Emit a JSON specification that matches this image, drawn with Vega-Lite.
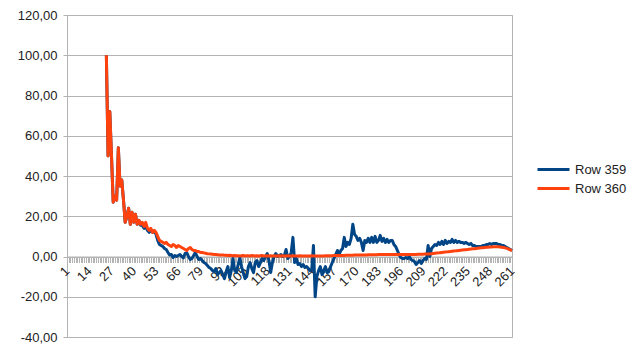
{
  "$schema": "https://vega.github.io/schema/vega-lite/v6.json",
  "width": 445,
  "height": 322,
  "autosize": {"type": "none"},
  "padding": {"left": 67, "top": 15, "right": 128, "bottom": 21},
  "background": "white",
  "config": {
    "view": {"stroke": "#b3b3b3", "strokeWidth": 1},
    "font": "Liberation Sans"
  },
  "data": {
    "values": [
      {"x":24,"Row 359":100,"Row 360":100},{"x":25,"Row 359":50,"Row 360":50},{"x":26,"Row 359":72,"Row 360":72},{"x":27,"Row 359":50,"Row 360":50},{"x":28,"Row 359":27,"Row 360":27},{"x":29,"Row 359":30,"Row 360":30},{"x":30,"Row 359":28,"Row 360":28},{"x":31,"Row 359":54,"Row 360":54},{"x":32,"Row 359":35,"Row 360":35},{"x":33,"Row 359":38,"Row 360":38},
      {"x":34,"Row 359":28,"Row 360":28},{"x":35,"Row 359":17,"Row 360":17},{"x":36,"Row 359":20,"Row 360":20},{"x":37,"Row 359":24,"Row 360":24},{"x":38,"Row 359":16,"Row 360":16},{"x":39,"Row 359":22,"Row 360":22},{"x":40,"Row 359":17,"Row 360":17},{"x":41,"Row 359":21,"Row 360":21},{"x":42,"Row 359":16,"Row 360":16},{"x":43,"Row 359":18,"Row 360":18},
      {"x":44,"Row 359":15.5,"Row 360":16},{"x":45,"Row 359":15.5,"Row 360":17},{"x":46,"Row 359":14,"Row 360":15},{"x":47,"Row 359":15,"Row 360":17},{"x":48,"Row 359":13,"Row 360":14},{"x":49,"Row 359":12,"Row 360":13},{"x":50,"Row 359":13,"Row 360":14},{"x":51,"Row 359":12,"Row 360":12},{"x":52,"Row 359":12.5,"Row 360":13},{"x":53,"Row 359":11,"Row 360":12},
      {"x":54,"Row 359":8,"Row 360":10},{"x":55,"Row 359":6,"Row 360":8},{"x":56,"Row 359":5.5,"Row 360":7.5},{"x":57,"Row 359":5,"Row 360":7},{"x":58,"Row 359":4,"Row 360":6.5},{"x":59,"Row 359":3.5,"Row 360":7},{"x":60,"Row 359":2,"Row 360":6},{"x":61,"Row 359":0.7,"Row 360":5.5},{"x":62,"Row 359":1,"Row 360":5},{"x":63,"Row 359":-0.5,"Row 360":6},
      {"x":64,"Row 359":0.5,"Row 360":5.5},{"x":65,"Row 359":0,"Row 360":4.5},{"x":66,"Row 359":0.5,"Row 360":5.5},{"x":67,"Row 359":1,"Row 360":5},{"x":68,"Row 359":0,"Row 360":4.5},{"x":69,"Row 359":-0.7,"Row 360":4},{"x":70,"Row 359":1.5,"Row 360":3.5},{"x":71,"Row 359":1.8,"Row 360":3},{"x":72,"Row 359":0,"Row 360":4},{"x":73,"Row 359":-1.5,"Row 360":4.5},
      {"x":74,"Row 359":-1,"Row 360":3.5},{"x":75,"Row 359":0.5,"Row 360":3},{"x":76,"Row 359":2,"Row 360":3},{"x":77,"Row 359":0,"Row 360":2.5},{"x":78,"Row 359":-1.5,"Row 360":2.5},{"x":79,"Row 359":-1,"Row 360":2},{"x":80,"Row 359":-2,"Row 360":2},{"x":81,"Row 359":-3,"Row 360":1.8},{"x":82,"Row 359":-3.5,"Row 360":1.6},{"x":83,"Row 359":-4.5,"Row 360":1.4},
      {"x":84,"Row 359":-5.5,"Row 360":1.3},{"x":85,"Row 359":-6,"Row 360":1.2},{"x":86,"Row 359":-7,"Row 360":1.1},{"x":87,"Row 359":-7.5,"Row 360":1},{"x":88,"Row 359":-6,"Row 360":1},{"x":89,"Row 359":-9,"Row 360":0.9},{"x":90,"Row 359":-8,"Row 360":0.8},{"x":91,"Row 359":-7,"Row 360":0.7},{"x":92,"Row 359":-9,"Row 360":0.8},{"x":93,"Row 359":-11,"Row 360":0.6},
      {"x":94,"Row 359":-7.5,"Row 360":0.6},{"x":95,"Row 359":-5,"Row 360":0.5},{"x":96,"Row 359":-10.5,"Row 360":0.6},{"x":97,"Row 359":-7,"Row 360":0.5},{"x":98,"Row 359":-1,"Row 360":0.4},{"x":99,"Row 359":-7,"Row 360":0.5},{"x":100,"Row 359":-8,"Row 360":0.4},{"x":101,"Row 359":-4,"Row 360":0.4},{"x":102,"Row 359":-0.5,"Row 360":0.3},{"x":103,"Row 359":-5,"Row 360":0.4},
      {"x":104,"Row 359":-8,"Row 360":0.5},{"x":105,"Row 359":-11,"Row 360":0.3},{"x":106,"Row 359":-10,"Row 360":0.4},{"x":107,"Row 359":-5,"Row 360":0.4},{"x":108,"Row 359":-3,"Row 360":0.3},{"x":109,"Row 359":-6,"Row 360":0.5},{"x":110,"Row 359":-8,"Row 360":0.4},{"x":111,"Row 359":-3,"Row 360":0.3},{"x":112,"Row 359":-2,"Row 360":0.4},{"x":113,"Row 359":-5,"Row 360":0.3},
      {"x":114,"Row 359":-3,"Row 360":0.4},{"x":115,"Row 359":-1,"Row 360":0.5},{"x":116,"Row 359":-2,"Row 360":0.3},{"x":117,"Row 359":0,"Row 360":0.3},{"x":118,"Row 359":1.5,"Row 360":0.4},{"x":119,"Row 359":-2,"Row 360":0.3},{"x":120,"Row 359":-8,"Row 360":0.4},{"x":121,"Row 359":-3,"Row 360":0.3},{"x":122,"Row 359":0,"Row 360":0.4},{"x":123,"Row 359":1.5,"Row 360":0.3},
      {"x":124,"Row 359":0,"Row 360":0.3},{"x":125,"Row 359":0.5,"Row 360":0.4},{"x":126,"Row 359":1,"Row 360":0.3},{"x":127,"Row 359":0,"Row 360":0.4},{"x":128,"Row 359":0.5,"Row 360":0.3},{"x":129,"Row 359":3.5,"Row 360":0.3},{"x":130,"Row 359":-1,"Row 360":0.4},{"x":131,"Row 359":0,"Row 360":0.3},{"x":132,"Row 359":2,"Row 360":0.3},{"x":133,"Row 359":9.5,"Row 360":0.4},
      {"x":134,"Row 359":-3,"Row 360":0.3},{"x":135,"Row 359":-1,"Row 360":0.3},{"x":136,"Row 359":-4,"Row 360":0.3},{"x":137,"Row 359":-3.5,"Row 360":0.4},{"x":138,"Row 359":-5,"Row 360":0.3},{"x":139,"Row 359":-4,"Row 360":0.3},{"x":140,"Row 359":-5.5,"Row 360":0.3},{"x":141,"Row 359":-5,"Row 360":0.3},{"x":142,"Row 359":-6,"Row 360":0.3},{"x":143,"Row 359":-7,"Row 360":0.3},
      {"x":144,"Row 359":-6.5,"Row 360":0.4},{"x":145,"Row 359":5.5,"Row 360":0.3},{"x":146,"Row 359":-20,"Row 360":0.3},{"x":147,"Row 359":-10,"Row 360":0.3},{"x":148,"Row 359":-7,"Row 360":0.3},{"x":149,"Row 359":-5,"Row 360":0.3},{"x":150,"Row 359":-9,"Row 360":0.3},{"x":151,"Row 359":-7,"Row 360":0.3},{"x":152,"Row 359":-5,"Row 360":0.35},{"x":153,"Row 359":-8,"Row 360":0.35},
      {"x":154,"Row 359":-7.5,"Row 360":0.4},{"x":155,"Row 359":-5,"Row 360":0.4},{"x":156,"Row 359":-3,"Row 360":0.4},{"x":157,"Row 359":-1,"Row 360":0.45},{"x":158,"Row 359":1,"Row 360":0.45},{"x":159,"Row 359":3,"Row 360":0.5},{"x":160,"Row 359":1,"Row 360":0.5},{"x":161,"Row 359":3,"Row 360":0.5},{"x":162,"Row 359":4,"Row 360":0.55},{"x":163,"Row 359":9.5,"Row 360":0.55},
      {"x":164,"Row 359":5,"Row 360":0.6},{"x":165,"Row 359":7,"Row 360":0.6},{"x":166,"Row 359":6,"Row 360":0.6},{"x":167,"Row 359":9,"Row 360":0.65},{"x":168,"Row 359":16,"Row 360":0.65},{"x":169,"Row 359":11,"Row 360":0.7},{"x":170,"Row 359":10,"Row 360":0.7},{"x":171,"Row 359":8,"Row 360":0.7},{"x":172,"Row 359":9,"Row 360":0.75},{"x":173,"Row 359":7,"Row 360":0.75},
      {"x":174,"Row 359":3,"Row 360":0.8},{"x":175,"Row 359":8,"Row 360":0.8},{"x":176,"Row 359":7,"Row 360":0.8},{"x":177,"Row 359":9,"Row 360":0.85},{"x":178,"Row 359":7,"Row 360":0.85},{"x":179,"Row 359":9.5,"Row 360":0.9},{"x":180,"Row 359":7,"Row 360":0.9},{"x":181,"Row 359":10,"Row 360":0.9},{"x":182,"Row 359":7,"Row 360":0.9},{"x":183,"Row 359":8,"Row 360":0.95},
      {"x":184,"Row 359":10.5,"Row 360":0.95},{"x":185,"Row 359":7.5,"Row 360":1},{"x":186,"Row 359":9,"Row 360":1},{"x":187,"Row 359":7,"Row 360":1},{"x":188,"Row 359":8.5,"Row 360":1},{"x":189,"Row 359":7,"Row 360":1},{"x":190,"Row 359":8,"Row 360":1},{"x":191,"Row 359":8,"Row 360":1},{"x":192,"Row 359":6,"Row 360":1},{"x":193,"Row 359":5,"Row 360":1},
      {"x":194,"Row 359":3,"Row 360":1},{"x":195,"Row 359":1,"Row 360":1},{"x":196,"Row 359":-0.5,"Row 360":1},{"x":197,"Row 359":-1,"Row 360":1},{"x":198,"Row 359":-1,"Row 360":1},{"x":199,"Row 359":-0.5,"Row 360":1},{"x":200,"Row 359":-1,"Row 360":1},{"x":201,"Row 359":0,"Row 360":1},{"x":202,"Row 359":-1.5,"Row 360":1},{"x":203,"Row 359":-2,"Row 360":1},
      {"x":204,"Row 359":-2.5,"Row 360":1},{"x":205,"Row 359":-4,"Row 360":1.05},{"x":206,"Row 359":-3,"Row 360":1.1},{"x":207,"Row 359":-2,"Row 360":1.1},{"x":208,"Row 359":-3.5,"Row 360":1.1},{"x":209,"Row 359":-2,"Row 360":1.15},{"x":210,"Row 359":-1,"Row 360":1.2},{"x":211,"Row 359":-1.5,"Row 360":1.2},{"x":212,"Row 359":5.5,"Row 360":1.25},{"x":213,"Row 359":0,"Row 360":1.3},
      {"x":214,"Row 359":4,"Row 360":1.4},{"x":215,"Row 359":5,"Row 360":1.5},{"x":216,"Row 359":6,"Row 360":1.6},{"x":217,"Row 359":5.5,"Row 360":1.7},{"x":218,"Row 359":7,"Row 360":1.8},{"x":219,"Row 359":6,"Row 360":1.9},{"x":220,"Row 359":7.5,"Row 360":2},{"x":221,"Row 359":6,"Row 360":2.1},{"x":222,"Row 359":8,"Row 360":2.2},{"x":223,"Row 359":6.5,"Row 360":2.3},
      {"x":224,"Row 359":7.5,"Row 360":2.4},{"x":225,"Row 359":7,"Row 360":2.5},{"x":226,"Row 359":8.5,"Row 360":2.6},{"x":227,"Row 359":7,"Row 360":2.7},{"x":228,"Row 359":8,"Row 360":2.8},{"x":229,"Row 359":7,"Row 360":2.9},{"x":230,"Row 359":7.5,"Row 360":3},{"x":231,"Row 359":7,"Row 360":3.1},{"x":232,"Row 359":7,"Row 360":3.2},{"x":233,"Row 359":6.5,"Row 360":3.3},
      {"x":234,"Row 359":7,"Row 360":3.4},{"x":235,"Row 359":6.5,"Row 360":3.5},{"x":236,"Row 359":6,"Row 360":3.6},{"x":237,"Row 359":6.5,"Row 360":3.7},{"x":238,"Row 359":5.5,"Row 360":3.8},{"x":239,"Row 359":5.5,"Row 360":3.9},{"x":240,"Row 359":5,"Row 360":4},{"x":241,"Row 359":5,"Row 360":4.1},{"x":242,"Row 359":5,"Row 360":4.2},{"x":243,"Row 359":5,"Row 360":4.3},
      {"x":244,"Row 359":5.5,"Row 360":4.4},{"x":245,"Row 359":5.5,"Row 360":4.5},{"x":246,"Row 359":6,"Row 360":4.6},{"x":247,"Row 359":6,"Row 360":4.6},{"x":248,"Row 359":6.5,"Row 360":4.7},{"x":249,"Row 359":6,"Row 360":4.7},{"x":250,"Row 359":6.5,"Row 360":4.8},{"x":251,"Row 359":6.5,"Row 360":4.8},{"x":252,"Row 359":6.5,"Row 360":4.8},{"x":253,"Row 359":6,"Row 360":4.8},
      {"x":254,"Row 359":6,"Row 360":4.7},{"x":255,"Row 359":5.5,"Row 360":4.6},{"x":256,"Row 359":5.5,"Row 360":4.5},{"x":257,"Row 359":5,"Row 360":4.3},{"x":258,"Row 359":4.5,"Row 360":4},{"x":259,"Row 359":4,"Row 360":3.7},{"x":260,"Row 359":3.5,"Row 360":3.3},{"x":261,"Row 359":3,"Row 360":3}
    ]
  },
  "transform": [
    {"fold": ["Row 359", "Row 360"], "as": ["series", "value"]}
  ],
  "mark": {"type": "line", "strokeWidth": 3, "strokeJoin": "round"},
  "encoding": {
    "x": {
      "field": "x",
      "type": "quantitative",
      "scale": {"domain": [1, 261], "nice": false, "zero": false},
      "axis": {
        "orient": "bottom",
        "offset": -80.5,
        "tickCount": 260,
        "grid": false,
        "domain": true,
        "domainColor": "#b3b3b3",
        "tickColor": "#b3b3b3",
        "tickSize": 6,
        "labelAngle": -45,
        "labelAlign": "right",
        "labelBaseline": "middle",
        "labelFontSize": 13,
        "labelFont": "Liberation Sans",
        "labelColor": "#222222",
        "labelPadding": 6,
        "labelOverlap": false,
        "labelBound": false,
        "labelFlush": false,
        "labelExpr": "(datum.value - 1) % 13 == 0 ? datum.value : ''",
        "title": null
      }
    },
    "y": {
      "field": "value",
      "type": "quantitative",
      "scale": {"domain": [-40, 120], "nice": false},
      "axis": {
        "values": [-40, -20, 0, 20, 40, 60, 80, 100, 120],
        "grid": true,
        "gridColor": "#b3b3b3",
        "domain": false,
        "tickColor": "#b3b3b3",
        "tickSize": 4,
        "labelPadding": 6,
        "labelFontSize": 13,
        "labelFont": "Liberation Sans",
        "labelColor": "#222222",
        "labelExpr": "replace(replace(format(datum.value, '.2f'), '.', ','), '\u2212', '-')",
        "title": null
      }
    },
    "color": {
      "field": "series",
      "type": "nominal",
      "scale": {"domain": ["Row 359", "Row 360"], "range": ["#004586", "#ff420e"]},
      "legend": {
        "title": null,
        "orient": "none",
        "legendX": 477,
        "legendY": 145,
        "symbolType": "M-2,0H2",
        "symbolStrokeWidth": 3,
        "symbolSize": 256,
        "labelFontSize": 13,
        "labelFont": "Liberation Sans",
        "labelColor": "#222222",
        "labelOffset": 12,
        "rowPadding": 2,
        "padding": 0
      }
    }
  }
}
